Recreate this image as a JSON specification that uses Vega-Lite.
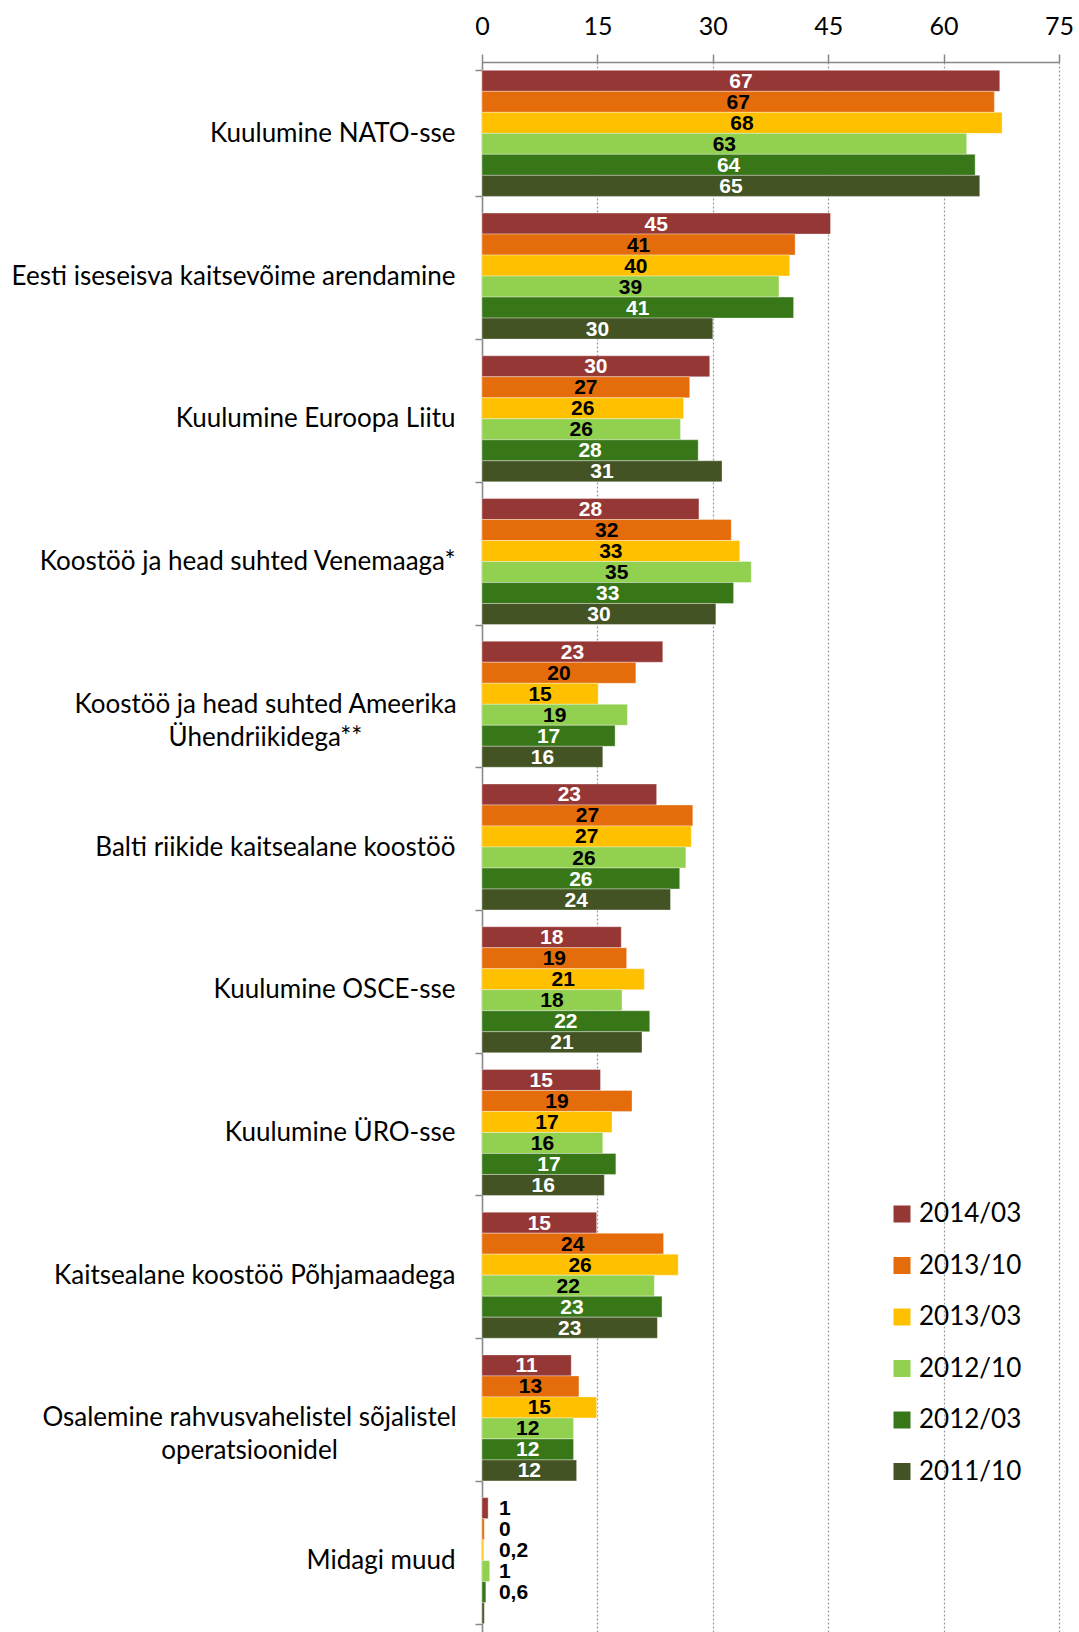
{
 "$schema": "https://vega.github.io/schema/vega-lite/v6.json",
 "autosize": "none",
 "padding": {"left": 482, "top": 62, "right": 20, "bottom": 0},
 "width": 577,
 "height": 1570,
 "config": {"view": {"stroke": null}, "font": "Lato"},
 "datasets": {
  "d": [
   {"category": "Kuulumine NATO-sse", "series": "2014/03", "value": 67.3, "label": "67"},
   {"category": "Kuulumine NATO-sse", "series": "2013/10", "value": 66.6, "label": "67"},
   {"category": "Kuulumine NATO-sse", "series": "2013/03", "value": 67.6, "label": "68"},
   {"category": "Kuulumine NATO-sse", "series": "2012/10", "value": 63.0, "label": "63"},
   {"category": "Kuulumine NATO-sse", "series": "2012/03", "value": 64.1, "label": "64"},
   {"category": "Kuulumine NATO-sse", "series": "2011/10", "value": 64.7, "label": "65"},
   {"category": "Eesti iseseisva kaitsevõime arendamine", "series": "2014/03", "value": 45.3, "label": "45"},
   {"category": "Eesti iseseisva kaitsevõime arendamine", "series": "2013/10", "value": 40.7, "label": "41"},
   {"category": "Eesti iseseisva kaitsevõime arendamine", "series": "2013/03", "value": 40.0, "label": "40"},
   {"category": "Eesti iseseisva kaitsevõime arendamine", "series": "2012/10", "value": 38.6, "label": "39"},
   {"category": "Eesti iseseisva kaitsevõime arendamine", "series": "2012/03", "value": 40.5, "label": "41"},
   {"category": "Eesti iseseisva kaitsevõime arendamine", "series": "2011/10", "value": 30.0, "label": "30"},
   {"category": "Kuulumine Euroopa Liitu", "series": "2014/03", "value": 29.6, "label": "30"},
   {"category": "Kuulumine Euroopa Liitu", "series": "2013/10", "value": 27.0, "label": "27"},
   {"category": "Kuulumine Euroopa Liitu", "series": "2013/03", "value": 26.2, "label": "26"},
   {"category": "Kuulumine Euroopa Liitu", "series": "2012/10", "value": 25.8, "label": "26"},
   {"category": "Kuulumine Euroopa Liitu", "series": "2012/03", "value": 28.1, "label": "28"},
   {"category": "Kuulumine Euroopa Liitu", "series": "2011/10", "value": 31.2, "label": "31"},
   {"category": "Koostöö ja head suhted Venemaaga*", "series": "2014/03", "value": 28.2, "label": "28"},
   {"category": "Koostöö ja head suhted Venemaaga*", "series": "2013/10", "value": 32.4, "label": "32"},
   {"category": "Koostöö ja head suhted Venemaaga*", "series": "2013/03", "value": 33.5, "label": "33"},
   {"category": "Koostöö ja head suhted Venemaaga*", "series": "2012/10", "value": 35.0, "label": "35"},
   {"category": "Koostöö ja head suhted Venemaaga*", "series": "2012/03", "value": 32.7, "label": "33"},
   {"category": "Koostöö ja head suhted Venemaaga*", "series": "2011/10", "value": 30.4, "label": "30"},
   {"category": "Koostöö ja head suhted Ameerika Ühendriikidega**", "series": "2014/03", "value": 23.5, "label": "23"},
   {"category": "Koostöö ja head suhted Ameerika Ühendriikidega**", "series": "2013/10", "value": 20.0, "label": "20"},
   {"category": "Koostöö ja head suhted Ameerika Ühendriikidega**", "series": "2013/03", "value": 15.1, "label": "15"},
   {"category": "Koostöö ja head suhted Ameerika Ühendriikidega**", "series": "2012/10", "value": 18.9, "label": "19"},
   {"category": "Koostöö ja head suhted Ameerika Ühendriikidega**", "series": "2012/03", "value": 17.3, "label": "17"},
   {"category": "Koostöö ja head suhted Ameerika Ühendriikidega**", "series": "2011/10", "value": 15.7, "label": "16"},
   {"category": "Balti riikide kaitsealane koostöö", "series": "2014/03", "value": 22.7, "label": "23"},
   {"category": "Balti riikide kaitsealane koostöö", "series": "2013/10", "value": 27.4, "label": "27"},
   {"category": "Balti riikide kaitsealane koostöö", "series": "2013/03", "value": 27.2, "label": "27"},
   {"category": "Balti riikide kaitsealane koostöö", "series": "2012/10", "value": 26.5, "label": "26"},
   {"category": "Balti riikide kaitsealane koostöö", "series": "2012/03", "value": 25.7, "label": "26"},
   {"category": "Balti riikide kaitsealane koostöö", "series": "2011/10", "value": 24.5, "label": "24"},
   {"category": "Kuulumine OSCE-sse", "series": "2014/03", "value": 18.1, "label": "18"},
   {"category": "Kuulumine OSCE-sse", "series": "2013/10", "value": 18.8, "label": "19"},
   {"category": "Kuulumine OSCE-sse", "series": "2013/03", "value": 21.1, "label": "21"},
   {"category": "Kuulumine OSCE-sse", "series": "2012/10", "value": 18.2, "label": "18"},
   {"category": "Kuulumine OSCE-sse", "series": "2012/03", "value": 21.8, "label": "22"},
   {"category": "Kuulumine OSCE-sse", "series": "2011/10", "value": 20.8, "label": "21"},
   {"category": "Kuulumine ÜRO-sse", "series": "2014/03", "value": 15.4, "label": "15"},
   {"category": "Kuulumine ÜRO-sse", "series": "2013/10", "value": 19.5, "label": "19"},
   {"category": "Kuulumine ÜRO-sse", "series": "2013/03", "value": 16.9, "label": "17"},
   {"category": "Kuulumine ÜRO-sse", "series": "2012/10", "value": 15.7, "label": "16"},
   {"category": "Kuulumine ÜRO-sse", "series": "2012/03", "value": 17.4, "label": "17"},
   {"category": "Kuulumine ÜRO-sse", "series": "2011/10", "value": 15.9, "label": "16"},
   {"category": "Kaitsealane koostöö Põhjamaadega", "series": "2014/03", "value": 14.9, "label": "15"},
   {"category": "Kaitsealane koostöö Põhjamaadega", "series": "2013/10", "value": 23.6, "label": "24"},
   {"category": "Kaitsealane koostöö Põhjamaadega", "series": "2013/03", "value": 25.5, "label": "26"},
   {"category": "Kaitsealane koostöö Põhjamaadega", "series": "2012/10", "value": 22.4, "label": "22"},
   {"category": "Kaitsealane koostöö Põhjamaadega", "series": "2012/03", "value": 23.4, "label": "23"},
   {"category": "Kaitsealane koostöö Põhjamaadega", "series": "2011/10", "value": 22.8, "label": "23"},
   {"category": "Osalemine rahvusvahelistel sõjalistel operatsioonidel", "series": "2014/03", "value": 11.6, "label": "11"},
   {"category": "Osalemine rahvusvahelistel sõjalistel operatsioonidel", "series": "2013/10", "value": 12.6, "label": "13"},
   {"category": "Osalemine rahvusvahelistel sõjalistel operatsioonidel", "series": "2013/03", "value": 14.9, "label": "15"},
   {"category": "Osalemine rahvusvahelistel sõjalistel operatsioonidel", "series": "2012/10", "value": 11.9, "label": "12"},
   {"category": "Osalemine rahvusvahelistel sõjalistel operatsioonidel", "series": "2012/03", "value": 11.9, "label": "12"},
   {"category": "Osalemine rahvusvahelistel sõjalistel operatsioonidel", "series": "2011/10", "value": 12.3, "label": "12"},
   {"category": "Midagi muud", "series": "2014/03", "value": 0.8, "label": "1"},
   {"category": "Midagi muud", "series": "2013/10", "value": 0.3, "label": "0"},
   {"category": "Midagi muud", "series": "2013/03", "value": 0.2, "label": "0,2"},
   {"category": "Midagi muud", "series": "2012/10", "value": 1.0, "label": "1"},
   {"category": "Midagi muud", "series": "2012/03", "value": 0.5, "label": "0,6"},
   {"category": "Midagi muud", "series": "2011/10", "value": 0.3, "label": ""}
  ]
 },
 "data": {"name": "d"},
 "encoding": {
  "y": {
   "field": "category", "type": "nominal",
   "sort": ["Kuulumine NATO-sse", "Eesti iseseisva kaitsevõime arendamine", "Kuulumine Euroopa Liitu", "Koostöö ja head suhted Venemaaga*", "Koostöö ja head suhted Ameerika Ühendriikidega**", "Balti riikide kaitsealane koostöö", "Kuulumine OSCE-sse", "Kuulumine ÜRO-sse", "Kaitsealane koostöö Põhjamaadega", "Osalemine rahvusvahelistel sõjalistel operatsioonidel", "Midagi muud"],
   "scale": {"paddingInner": 0.117, "paddingOuter": 0.0585},
   "axis": {
    "title": null,
    "tickBand": "extent",
    "domainColor": "#888888", "domainWidth": 1.5,
    "tickColor": "#888888", "tickWidth": 1.5, "tickSize": 7,
    "labelFont": "Lato", "labelFontSize": 26, "labelColor": "#000000",
    "labelLimit": 0, "labelLineHeight": 33,
    "labelExpr": "datum.value == 'Koostöö ja head suhted Ameerika Ühendriikidega**' ? ['Koostöö ja head suhted Ameerika', 'Ühendriikidega**'] : datum.value == 'Osalemine rahvusvahelistel sõjalistel operatsioonidel' ? ['Osalemine rahvusvahelistel sõjalistel', 'operatsioonidel'] : datum.label",
    "labelAlign": {"condition": {"test": "datum.value == 'Koostöö ja head suhted Ameerika Ühendriikidega**' || datum.value == 'Osalemine rahvusvahelistel sõjalistel operatsioonidel'", "value": "center"}, "value": "right"},
    "labelPadding": {"condition": [{"test": "datum.value == 'Koostöö ja head suhted Ameerika Ühendriikidega**'", "value": 210}, {"test": "datum.value == 'Osalemine rahvusvahelistel sõjalistel operatsioonidel'", "value": 226}], "value": 20}
   }
  },
  "yOffset": {"field": "series", "type": "nominal", "sort": ["2014/03", "2013/10", "2013/03", "2012/10", "2012/03", "2011/10"]}
 },
 "layer": [
  {
   "mark": {"type": "bar", "stroke": "#ffffff", "strokeWidth": 0.6, "strokeOpacity": 0.6},
   "encoding": {
    "x": {"field": "value", "type": "quantitative", "scale": {"domain": [0, 75], "nice": false},
     "axis": {"orient": "top", "title": null, "values": [0, 15, 30, 45, 60, 75], "labelFlush": false,
      "grid": true, "gridColor": "#999999", "gridDash": [2, 2], "gridWidth": 1.2,
      "domainColor": "#888888", "domainWidth": 1.5, "tickColor": "#888888", "tickWidth": 1.5, "tickSize": 8,
      "labelFont": "Lato", "labelFontSize": 25, "labelColor": "#000000", "labelPadding": 15}},
    "color": {"field": "series", "type": "nominal",
     "scale": {"domain": ["2014/03", "2013/10", "2013/03", "2012/10", "2012/03", "2011/10"], "range": ["#953735", "#E46C0A", "#FFC000", "#92D050", "#377718", "#435323"]},
     "legend": {"orient": "none", "legendX": 407, "legendY": 1139, "title": null, "symbolType": "square", "symbolSize": 289, "symbolStrokeWidth": 0, "labelFont": "Lato", "labelFontSize": 26, "labelColor": "#000000", "rowPadding": 25.5, "labelOffset": 4, "padding": 0}}
   }
  },
  {
   "transform": [{"filter": "datum.category != 'Midagi muud'"}],
   "mark": {"type": "text", "font": "Liberation Sans, Arial", "fontWeight": "bold", "fontSize": 21, "baseline": "middle", "align": "center", "dy": 1},
   "encoding": {
    "x": {"field": "value", "type": "quantitative", "scale": {"domain": [0, 150], "nice": false}, "axis": null},
    "text": {"field": "label"},
    "color": {"field": "series", "type": "nominal",
     "scale": {"domain": ["2014/03", "2013/10", "2013/03", "2012/10", "2012/03", "2011/10"], "range": ["#ffffff", "#000000", "#000000", "#000000", "#ffffff", "#ffffff"]},
     "legend": null}
   }
  },
  {
   "transform": [{"filter": "datum.category == 'Midagi muud' && datum.label != ''"}],
   "mark": {"type": "text", "font": "Liberation Sans, Arial", "fontWeight": "bold", "fontSize": 21, "baseline": "middle", "align": "left", "color": "#000000", "dy": 1},
   "encoding": {
    "x": {"datum": 2.2, "type": "quantitative", "scale": {"domain": [0, 75], "nice": false}, "axis": null},
    "text": {"field": "label"}
   }
  }
 ],
 "resolve": {"scale": {"x": "independent", "color": "independent"}}
}
